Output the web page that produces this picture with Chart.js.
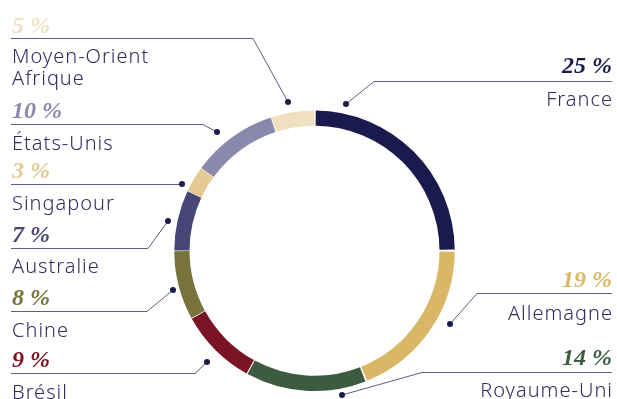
<!DOCTYPE html>
<html>
<head>
<meta charset="utf-8">
<script src="https://cdn.jsdelivr.net/npm/chart.js@4/dist/chart.umd.min.js"></script>
<style>
  html, body { margin: 0; padding: 0; background: #fff; }
  #wrap { position: relative; width: 617px; height: 399px; }
</style>
</head>
<body>
<div id="wrap"><canvas id="regionChart"></canvas></div>
<script>
// Data (clockwise from 12 o'clock)
const regions = ['France', 'Allemagne', 'Royaume-Uni', 'Brésil', 'Chine', 'Australie', 'Singapour', 'États-Unis', 'Moyen-Orient\nAfrique'];
const shares = [25, 19, 14, 9, 8, 7, 3, 10, 5];
const colors = ['#1B1A4F', '#D9B766', '#3D5B3E', '#7A1424', '#77733A', '#474676', '#E4C992', '#8A88AD', '#EFE0C0'];

// Label placement (annotation layout, one per region)
// baseline of %, line y, elbow x, dot x/y, baseline of name
const labelLayout = [
  { side: 'R', pctY: 73,  lineY: 81,  elbow: 374, dot: [346, 104], nameY: 106 },
  { side: 'R', pctY: 287, lineY: 293, elbow: 477, dot: [450, 324], nameY: 320 },
  { side: 'R', pctY: 365, lineY: 372, elbow: 422, dot: [342, 395], nameY: 397 },
  { side: 'L', pctY: 367, lineY: 373, elbow: 195, dot: [207, 362], nameY: 399 },
  { side: 'L', pctY: 305, lineY: 311, elbow: 147, dot: [173, 290], nameY: 337 },
  { side: 'L', pctY: 242, lineY: 248, elbow: 148, dot: [168, 221], nameY: 273 },
  { side: 'L', pctY: 178, lineY: 184, elbow: 182, dot: [182, 184], nameY: 210 },
  { side: 'L', pctY: 118, lineY: 124, elbow: 203, dot: [217, 132], nameY: 150 },
  { side: 'L', pctY: 33,  lineY: 38,  elbow: 253, dot: [288, 102], nameY: 63 }
];

const LEFT_X = 12;
const RIGHT_X = 612;

const calloutPlugin = {
  id: 'callouts',
  afterDraw(chart) {
    const ctx = chart.ctx;
    ctx.save();
    labelLayout.forEach((lay, i) => {
      const left = lay.side === 'L';
      const textX = left ? LEFT_X : RIGHT_X;
      const lineEnd = left ? LEFT_X - 1 : RIGHT_X;
      const ly = Math.round(lay.lineY) + 0.5;

      // leader line
      ctx.strokeStyle = '#5E5D82';
      ctx.lineWidth = 1;
      ctx.beginPath();
      ctx.moveTo(lineEnd, ly);
      ctx.lineTo(lay.elbow, ly);
      ctx.lineTo(lay.dot[0], lay.dot[1]);
      ctx.stroke();

      // dot
      ctx.fillStyle = '#1B1A4F';
      ctx.beginPath();
      ctx.arc(lay.dot[0], lay.dot[1], 3, 0, Math.PI * 2);
      ctx.fill();

      // percentage
      ctx.textAlign = left ? 'left' : 'right';
      ctx.textBaseline = 'alphabetic';
      ctx.letterSpacing = '0px';
      ctx.fillStyle = colors[i];
      ctx.font = 'italic bold 24px "Liberation Serif"';
      ctx.fillText(shares[i] + ' %', textX, lay.pctY);

      // region name
      ctx.fillStyle = '#2E2D5E';
      ctx.font = '300 20px "Noto Sans"';
      ctx.letterSpacing = '1px';
      const nx = left ? textX : textX + 1;
      regions[i].split('\n').forEach((line, k) => {
        ctx.fillText(line, nx, lay.nameY + k * 22);
      });
    });
    ctx.restore();
  }
};

const ctx = document.getElementById('regionChart').getContext('2d');
new Chart(ctx, {
  type: 'doughnut',
  data: {
    labels: regions,
    datasets: [{
      data: shares,
      backgroundColor: colors,
      borderWidth: 0,
      spacing: 3
    }]
  },
  options: {
    responsive: true,
    maintainAspectRatio: false,
    animation: false,
    cutout: '89%',
    layout: {
      padding: { top: 110.5, left: 174, right: 162, bottom: 8 }
    },
    plugins: {
      legend: { display: false },
      tooltip: { enabled: false }
    }
  },
  plugins: [calloutPlugin]
});
</script>
</body>
</html>
